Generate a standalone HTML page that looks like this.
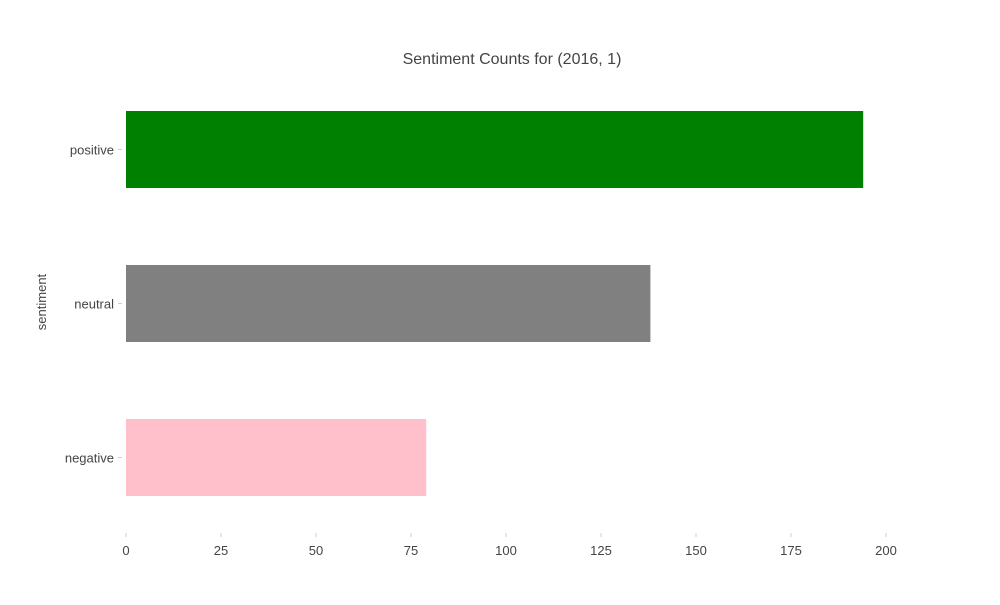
<!DOCTYPE html>
<html><head><meta charset="utf-8"><style>
body{margin:0;background:#fff;font-family:"Liberation Sans","DejaVu Sans",sans-serif;}
svg text{fill:#444;}
</style></head><body>
<svg id="chart" width="1000" height="600">
<text x="512" y="64" text-anchor="middle" font-size="16">Sentiment Counts for (2016, 1)</text>
<text transform="translate(46,302) rotate(-90)" text-anchor="middle" font-size="13">sentiment</text>
<g id="bars"></g><g id="xticks"></g><g id="yticks"></g>
</svg>
<script>
const categories=['positive','neutral','negative'];
const counts=[194,138,79];
const colors=['#008000','#808080','#ffc0cb'];
const xTicks=[0,25,50,75,100,125,150,175,200];
const x0=126,pxPer=3.80;
const xs=v=>x0+v*pxPer;
const yc=i=>149.5+i*154;
const ns='http://www.w3.org/2000/svg';
const bars=document.getElementById('bars'),xt=document.getElementById('xticks'),yt=document.getElementById('yticks');
categories.forEach((c,i)=>{
 const r=document.createElementNS(ns,'rect');
 r.setAttribute('x',xs(0));r.setAttribute('y',yc(i)-38.5);
 r.setAttribute('width',xs(counts[i])-xs(0));r.setAttribute('height',77);
 r.setAttribute('fill',colors[i]);
 
 
 bars.appendChild(r);
 const t=document.createElementNS(ns,'text');
 t.setAttribute('x',114);t.setAttribute('y',yc(i)+5);t.setAttribute('text-anchor','end');t.setAttribute('font-size','13');
 t.textContent=c;
 
 
 yt.appendChild(t);
 const l=document.createElementNS(ns,'line');
 l.setAttribute('x1',118);l.setAttribute('x2',122);l.setAttribute('y1',yc(i));l.setAttribute('y2',yc(i));l.setAttribute('stroke','#ccc');
 
 
 yt.appendChild(l);
});
xTicks.forEach(v=>{
 const l=document.createElementNS(ns,'line');
 l.setAttribute('x1',xs(v));l.setAttribute('x2',xs(v));l.setAttribute('y1',533);l.setAttribute('y2',537);l.setAttribute('stroke','#ccc');
 
 
 xt.appendChild(l);
 const t=document.createElementNS(ns,'text');
 t.setAttribute('x',xs(v));t.setAttribute('y',555);t.setAttribute('text-anchor','middle');t.setAttribute('font-size','13');
 t.textContent=v;
 
 
 xt.appendChild(t);
});
</script>
</body></html>
